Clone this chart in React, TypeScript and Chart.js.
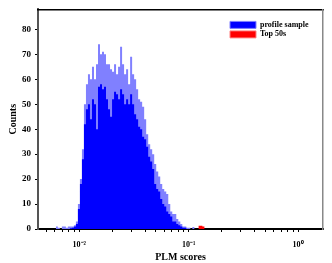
import { useEffect, useRef } from 'react';
import { Chart, registerables } from 'chart.js';

Chart.register(...registerables);

// Histogram bins: log-spaced, 2/109 decade wide, starting at 10^-2.2138
const LOG_START = -2.2138;
const LOG_STEP = 2 / 109;
const BIN_COUNT = 75;

// "profile sample" counts: spiky envelope (light) and dense core (dark)
const profileEnvelope = [
  0.8, 1, 0.5, 0, 1, 1, 0.5, 1, 1, 1,
  1.5, 3, 10, 20, 32, 50, 58, 62, 60, 65,
  60, 66, 74, 70, 71, 70, 66, 66, 64, 63,
  66, 62, 65, 73, 66, 62, 64, 58, 69, 62,
  60, 56, 52, 51, 49, 44, 38, 34, 32, 30,
  26, 23, 21, 18, 16, 15, 14, 10, 7, 6,
  6, 4, 3, 2, 1, 1, 0.5, 0.5, 0, 0.8,
  0, 0, 0, 0, 0,
];
const profileCore = [
  0, 0, 0, 0, 0, 0, 0, 0, 0.3, 0.5,
  1, 2, 8, 18, 28, 42, 48, 50, 44, 52,
  50, 40, 57, 58, 56, 57, 52, 48, 45, 52,
  55, 54, 52, 56, 54, 50, 52, 50, 54, 50,
  46, 44, 41, 40, 37, 36, 33, 29, 27, 24,
  18, 16, 15, 12, 10, 9, 7, 6, 5, 3,
  3, 2, 1.5, 1, 0.5, 0.5, 0, 0, 0, 0,
  0, 0, 0, 0, 0,
];
// "Top 50s" counts, starting at bin 71
const TOP50_START_BIN = 71;
const top50Counts = [1.0, 1.3, 1.3, 1.0];

const X_MIN = 0.0042;
const X_MAX = 1.69;
const Y_MIN = 0;
const Y_MAX = 88;
const yTickValues = [0, 10, 20, 30, 40, 50, 60, 70, 80];
const xTickValues = [
  0.005, 0.006, 0.007, 0.008, 0.009,
  0.01, 0.02, 0.03, 0.04, 0.05, 0.06, 0.07, 0.08, 0.09,
  0.1, 0.2, 0.3, 0.4, 0.5, 0.6, 0.7, 0.8, 0.9,
  1,
];
const xMajorValues = [0.01, 0.1, 1];
const xMajorLabels = ['10⁻²', '10⁻¹', '10⁰'];

const legendLabels = ['profile sample', 'Top 50s'];
const xTitle = 'PLM scores';
const yTitle = 'Counts';

const FONT = "'Liberation Serif', 'Times New Roman', serif";

function binEdge(i: number): number {
  return Math.pow(10, LOG_START + i * LOG_STEP);
}

function stepPoints(values: number[], startBin: number) {
  const pts = values.map((v, k) => ({ x: binEdge(startBin + k), y: v }));
  pts.push({ x: binEdge(startBin + values.length), y: 0 });
  return pts;
}

const legendPlacer = {
  id: 'legendPlacer',
  afterLayout(chart: any) {
    const lg = chart.legend;
    if (!lg) return;
    const w = lg.width;
    const h = lg.height;
    lg.left = chart.chartArea.right - 94.5;
    lg.top = chart.chartArea.top + 10;
    lg.right = lg.left + w;
    lg.bottom = lg.top + h;
  },
};

export default function App() {
  const ref = useRef<HTMLCanvasElement | null>(null);

  useEffect(() => {
    if (!ref.current) return;
    const chart = new Chart(ref.current, {
      type: 'line',
      data: {
        datasets: [
          {
            label: legendLabels[1],
            data: stepPoints(top50Counts, TOP50_START_BIN),
            stepped: 'after',
            fill: 'origin',
            backgroundColor: '#ff0000',
            borderColor: 'rgba(0,0,0,0)',
            borderWidth: 0,
            pointRadius: 0,
            order: 0,
          },
          {
            label: legendLabels[0],
            data: stepPoints(profileCore.slice(0, BIN_COUNT), 0),
            stepped: 'after',
            fill: 'origin',
            backgroundColor: '#0000ff',
            borderColor: 'rgba(0,0,0,0)',
            borderWidth: 0,
            pointRadius: 0,
            order: 1,
          },
          {
            label: legendLabels[0] + ' envelope',
            data: stepPoints(profileEnvelope.slice(0, BIN_COUNT), 0),
            stepped: 'after',
            fill: 'origin',
            backgroundColor: '#8080ff',
            borderColor: 'rgba(0,0,0,0)',
            borderWidth: 0,
            pointRadius: 0,
            order: 2,
          },
        ],
      },
      options: {
        animation: false,
        responsive: true,
        maintainAspectRatio: false,
        events: [],
        layout: { padding: { top: 7, right: 9, left: 0, bottom: 0 } },
        plugins: {
          tooltip: { enabled: false },
          legend: {
            display: true,
            position: 'chartArea',
            align: 'start',
            labels: {
              boxWidth: 26,
              boxHeight: 7,
              padding: 1.5,
              color: '#000',
              font: { family: FONT, size: 8, weight: 'bold' },
              generateLabels: () => [
                {
                  text: legendLabels[0],
                  fillStyle: '#0000ff',
                  strokeStyle: '#8080ff',
                  lineWidth: 1,
                  hidden: false,
                  datasetIndex: 1,
                },
                {
                  text: legendLabels[1],
                  fillStyle: '#ff0000',
                  strokeStyle: '#ff8080',
                  lineWidth: 1,
                  hidden: false,
                  datasetIndex: 0,
                },
              ],
            },
          },
        },
        scales: {
          x: {
            type: 'logarithmic',
            position: 'bottom',
            min: X_MIN,
            max: X_MAX,
            afterBuildTicks: (s: any) => {
              s.ticks = xTickValues.map((v) => ({ value: v }));
            },
            afterFit: (s: any) => {
              s.height = 34;
            },
            ticks: {
              autoSkip: false,
              maxRotation: 0,
              padding: 8,
              color: '#000',
              font: { family: FONT, size: 8, weight: 'bold' },
              callback: (value: any) => {
                const v = Number(value);
                const idx = xMajorValues.findIndex((m) => Math.abs(m - v) / m < 1e-6);
                return idx >= 0 ? xMajorLabels[idx] : '';
              },
            },
            grid: {
              display: true,
              drawOnChartArea: false,
              drawTicks: true,
              tickLength: 3,
              tickColor: '#000',
              tickWidth: 1,
            },
            border: { display: true, color: '#000', width: 2 },
            title: {
              display: true,
              text: xTitle,
              color: '#000',
              font: { family: FONT, size: 10, weight: 'bold' },
              padding: { top: 0, bottom: 0 },
            },
          },
          y: {
            type: 'linear',
            position: 'left',
            min: Y_MIN,
            max: Y_MAX,
            afterBuildTicks: (s: any) => {
              s.ticks = yTickValues.map((v) => ({ value: v }));
            },
            afterFit: (s: any) => {
              s.width = 38;
            },
            ticks: {
              padding: 4,
              color: '#000',
              font: { family: FONT, size: 9, weight: 'bold' },
            },
            grid: {
              display: true,
              drawOnChartArea: false,
              drawTicks: true,
              tickLength: 3,
              tickColor: '#000',
              tickWidth: 1,
            },
            border: { display: true, color: '#555', width: 2 },
            title: {
              display: true,
              text: yTitle,
              color: '#000',
              font: { family: FONT, size: 10, weight: 'bold' },
              padding: { top: 7, bottom: 0 },
            },
          },
          xTop: {
            type: 'linear',
            position: 'top',
            display: true,
            afterFit: (s: any) => {
              s.height = 0;
            },
            ticks: { display: false },
            grid: { display: false, drawTicks: false },
            border: { display: true, color: '#000', width: 1.5 },
          },
          yRight: {
            type: 'linear',
            position: 'right',
            display: true,
            afterFit: (s: any) => {
              s.width = 0;
            },
            ticks: { display: false },
            grid: { display: false, drawTicks: false },
            border: { display: true, color: '#888', width: 1.5 },
          },
        },
      } as any,
      plugins: [legendPlacer],
    });
    return () => chart.destroy();
  }, []);

  return (
    <div style={{ position: 'fixed', left: 0, top: 0, width: 332, height: 263, background: '#fff' }}>
      <canvas ref={ref} />
    </div>
  );
}
